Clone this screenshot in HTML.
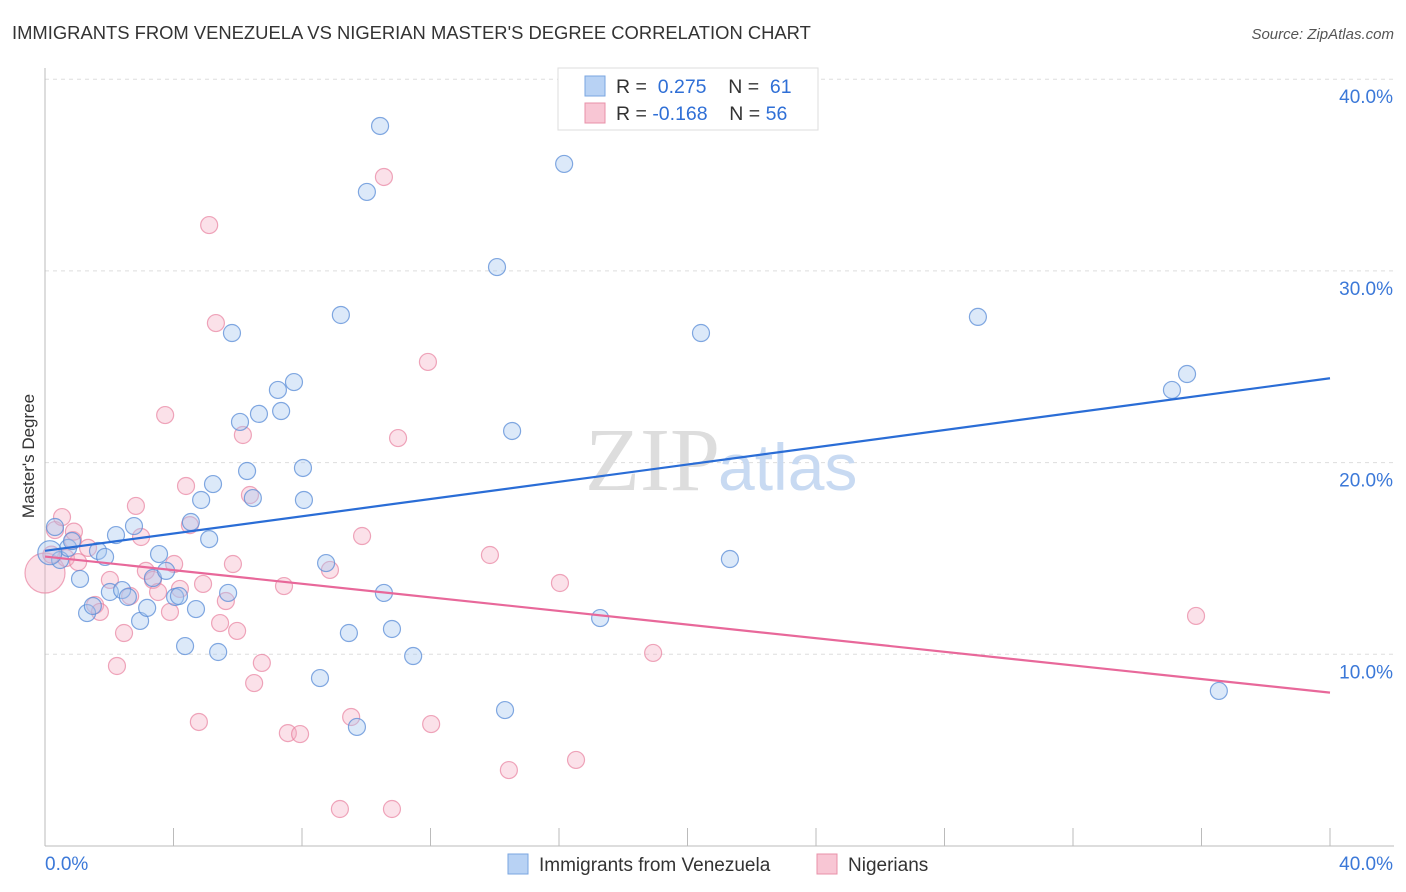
<!DOCTYPE html>
<html><head><meta charset="utf-8"><style>
body{margin:0;background:#fff;font-family:"Liberation Sans",sans-serif;}
svg{display:block}
</style></head><body>
<svg id="chart" width="1406" height="892">
<text x="12" y="39" font-size="18.4" fill="#333">IMMIGRANTS FROM VENEZUELA VS NIGERIAN MASTER'S DEGREE CORRELATION CHART</text>
<text x="1394" y="39" font-size="15" fill="#555" font-style="italic" text-anchor="end">Source: ZipAtlas.com</text>
<text x="34" y="456" font-size="17" fill="#333" text-anchor="middle" transform="rotate(-90 34 456)">Master's Degree</text>
<g id="grid"></g>
<text x="720" y="490" font-size="90" fill="#ddd" font-family="Liberation Serif" text-anchor="end">ZIP</text>
<text x="718" y="490" font-size="66" fill="#c8daf2">atlas</text>
<g id="pts"></g>
<g id="lines"></g>
<g>
<rect x="558" y="68" width="260" height="62" fill="#fff" stroke="#ddd"/>
<rect x="585" y="76" width="20" height="20" fill="#b8d2f4" stroke="#7aa6e0"/>
<text x="616" y="93" font-size="19.5" fill="#333">R = <tspan fill="#2f6fd6">&#160;0.275</tspan>&#160;&#160;&#160;&#160;N = <tspan fill="#2f6fd6">&#160;61</tspan></text>
<rect x="585" y="103" width="20" height="20" fill="#f8c6d4" stroke="#e890a8"/>
<text x="616" y="120" font-size="19.5" fill="#333">R = <tspan fill="#2f6fd6">-0.168</tspan>&#160;&#160;&#160;&#160;N = <tspan fill="#2f6fd6">56</tspan></text>
</g>
<g>
<rect x="508" y="854" width="20" height="20" fill="#b8d2f4" stroke="#7aa6e0"/>
<text x="539" y="871" font-size="19" fill="#333">Immigrants from Venezuela</text>
<rect x="817" y="854" width="20" height="20" fill="#f8c6d4" stroke="#e890a8"/>
<text x="848" y="871" font-size="19" fill="#333">Nigerians</text>
</g>
</svg>
<script>
const blueX=[0.31,0.47,0.72,0.84,1.09,1.31,1.49,1.65,1.87,2.02,2.21,2.40,2.58,2.77,2.96,3.18,3.36,3.55,3.77,4.05,4.17,4.36,4.54,4.70,4.86,5.11,5.23,5.39,5.70,5.82,6.07,6.29,6.47,6.66,7.25,7.35,7.75,8.03,8.06,8.56,8.75,9.21,9.46,9.71,10.02,10.43,10.55,10.80,11.46,14.07,14.32,14.54,16.16,17.28,20.42,21.32,29.04,35.08,35.55,36.54,0.15];
const blueY=[16.64,14.92,15.55,15.91,13.93,12.15,12.52,15.39,15.08,13.25,16.22,13.35,12.99,16.69,11.74,12.42,13.98,15.23,14.35,12.99,13.04,10.43,16.90,12.36,18.05,16.01,18.88,10.12,13.20,26.76,22.12,19.56,18.15,22.54,23.79,22.69,24.20,19.72,18.05,8.76,14.76,27.70,11.11,6.21,34.12,37.56,13.20,11.32,9.91,30.20,7.09,21.65,35.58,11.89,26.76,14.97,27.60,23.79,24.62,8.09,15.3];
const pinkX=[0,0.31,0.53,0.65,0.87,1.03,1.34,1.56,1.71,2.02,2.24,2.46,2.65,2.83,2.99,3.14,3.36,3.52,3.74,3.89,4.02,4.20,4.39,4.51,4.79,4.92,5.11,5.32,5.45,5.63,5.85,5.98,6.16,6.38,6.51,6.75,7.44,7.56,7.94,8.87,9.18,9.53,9.87,10.55,10.80,10.99,11.92,12.02,13.85,14.44,16.03,16.53,18.93,35.83,0.2,0.9];
const pinkY=[14.24,16.48,17.16,15.02,15.96,14.81,15.55,12.57,12.21,13.88,9.39,11.11,13.04,17.74,16.12,14.35,13.88,13.25,22.48,12.21,14.71,13.41,18.78,16.74,6.47,13.67,32.39,27.28,11.63,12.78,14.71,11.22,21.44,18.31,8.50,9.55,13.56,5.89,5.84,14.40,1.93,6.73,16.17,34.90,1.93,21.28,25.25,6.36,15.18,3.96,13.72,4.49,10.07,12.00,15.2,16.4];
const yTicks=[10,20,30,40];
const blueTrend=[15.4,24.4];
const pinkTrend=[15.1,8.0];
const X=v=>45+v*32.125, Y=v=>846-v*19.17;
const NS="http://www.w3.org/2000/svg";
function mk(t,a,p){const e=document.createElementNS(NS,t);for(const k in a)e.setAttribute(k,a[k]);p.appendChild(e);return e;}
const g=document.getElementById('grid');
yTicks.forEach(t=>{
 const l=mk('line',{x1:45,x2:1394,y1:Y(t),y2:Y(t),stroke:'#ddd','stroke-dasharray':'4,4'},g);
 
 
 const tx=mk('text',{x:1393,y:Y(t)+24,'font-size':19,fill:'#3b78d8','text-anchor':'end'},g);
 tx.textContent=t.toFixed(1)+'%';
 
 
});
mk('line',{x1:45,x2:45,y1:68,y2:846,stroke:'#bbb'},g);
mk('line',{x1:45,x2:1394,y1:846,y2:846,stroke:'#bbb'},g);
for(let i=1;i<=10;i++){mk('line',{x1:45+i*128.5,x2:45+i*128.5,y1:828,y2:846,stroke:'#bbb'},g);}
let a=mk('text',{x:45,y:870,'font-size':19,fill:'#3b78d8'},g);a.textContent='0.0%';


a=mk('text',{x:1393,y:870,'font-size':19,fill:'#3b78d8','text-anchor':'end'},g);a.textContent='40.0%';


const p=document.getElementById('pts');
pinkX.forEach((x,i)=>{const c=mk('circle',{cx:X(x),cy:Y(pinkY[i]),r:i==0?20:8.5,fill:'rgba(244,170,192,0.35)',stroke:'rgba(232,130,160,0.7)','stroke-width':1.2},p);
 
 });
blueX.forEach((x,i)=>{const c=mk('circle',{cx:X(x),cy:Y(blueY[i]),r:i==blueX.length-1?12:8.5,fill:'rgba(168,200,240,0.4)',stroke:'rgba(90,140,215,0.75)','stroke-width':1.2},p);
 
 });
const L=document.getElementById('lines');
let l1=mk('line',{x1:X(0),x2:X(40),y1:Y(blueTrend[0]),y2:Y(blueTrend[1]),stroke:'#2a6dd6','stroke-width':2.2},L);


let l2=mk('line',{x1:X(0),x2:X(40),y1:Y(pinkTrend[0]),y2:Y(pinkTrend[1]),stroke:'#e8689a','stroke-width':2.2},L);


</script>
</body></html>
